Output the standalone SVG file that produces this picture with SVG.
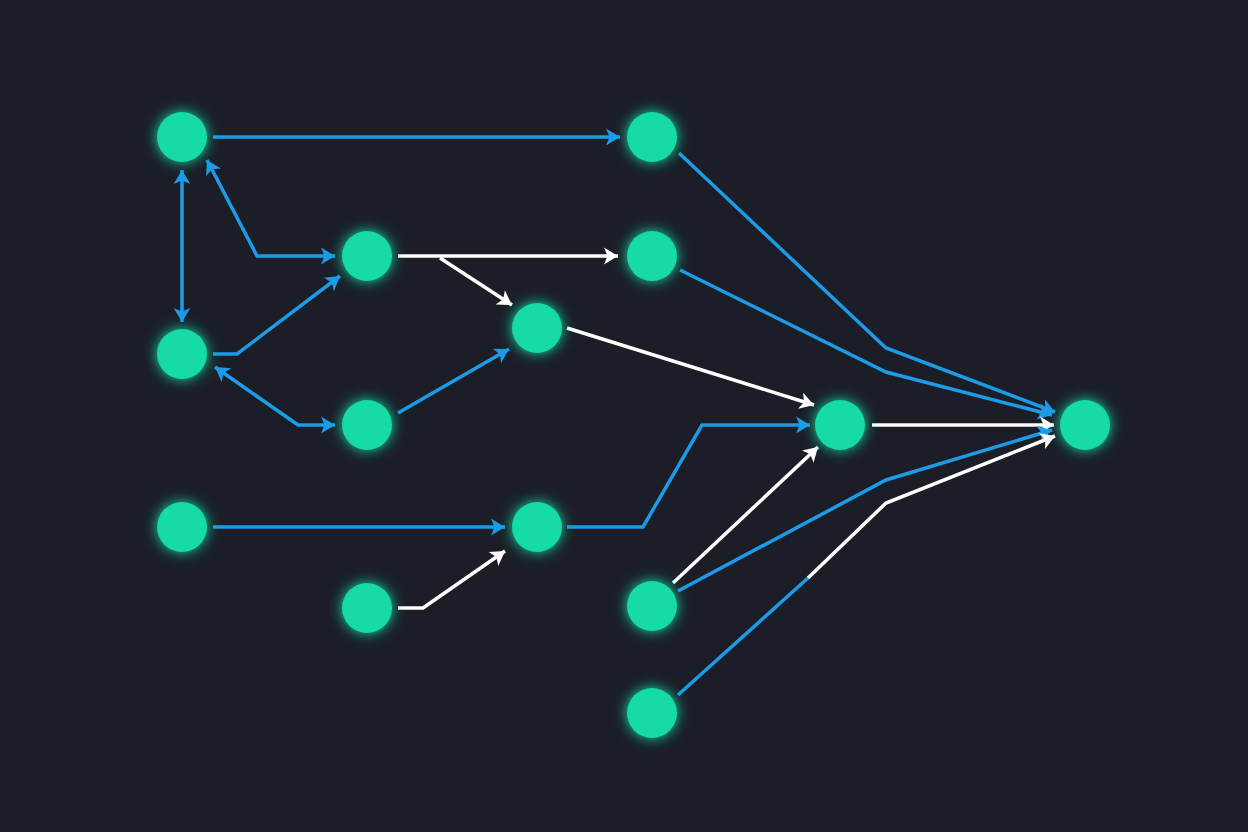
<svg xmlns="http://www.w3.org/2000/svg" width="1248" height="832" viewBox="0 0 1248 832">
<style>
.n{fill:#12dba6;filter:url(#glow)}
.b{fill:none;stroke:#1b9be8;stroke-width:3.5;stroke-linejoin:miter}
.w{fill:none;stroke:#ffffff;stroke-width:3.5}
.b.e{marker-end:url(#ab)}
.w.e{marker-end:url(#aw)}
.s{marker-start:url(#abs)}
</style>
<defs>
<filter id="glow" x="-80%" y="-80%" width="260%" height="260%">
<feGaussianBlur in="SourceGraphic" stdDeviation="7" result="bl"/>
<feMerge><feMergeNode in="bl"/><feMergeNode in="SourceGraphic"/></feMerge>
</filter>
<marker id="ab" viewBox="0 0 10 10" refX="9" refY="5" markerWidth="7" markerHeight="7" markerUnits="userSpaceOnUse" orient="auto" style="overflow:visible"><path d="M-14,-7 L6,5 L-14,17 L-9,5 Z" transform="translate(3,0)" fill="#1b9be8"/></marker>
<marker id="abs" viewBox="0 0 10 10" refX="9" refY="5" markerWidth="7" markerHeight="7" markerUnits="userSpaceOnUse" orient="auto-start-reverse" style="overflow:visible"><path d="M-14,-7 L6,5 L-14,17 L-9,5 Z" transform="translate(3,0)" fill="#1b9be8"/></marker>
<marker id="aw" viewBox="0 0 10 10" refX="9" refY="5" markerWidth="7" markerHeight="7" markerUnits="userSpaceOnUse" orient="auto" style="overflow:visible"><path d="M-14,-7 L6,5 L-14,17 L-9,5 Z" transform="translate(3,0)" fill="#ffffff"/></marker>
</defs>
<rect width="1248" height="832" fill="#1b1e27"/>
<g id="connectors">
<path class="b e" d="M213,137 L620,137"/>
<path class="b e" d="M679,153 L886,348 L1055,412"/>
<path class="b e s" d="M182,170 L182,322"/>
<path class="b e s" d="M207,160 L257,256 L335,256"/>
<path class="b e" d="M213,354 L237,354 L340,276"/>
<path class="b e s" d="M215,367 L298,425 L335,425"/>
<path class="w e" d="M398,256 L618,256"/>
<path class="w e" d="M440,258 L512,305"/>
<path class="b e" d="M398,413 L509,349"/>
<path class="w e" d="M567,328 L814,405"/>
<path class="b e" d="M680,270 L886,372 L1052,415"/>
<path class="w e" d="M872,425 L1054,425"/>
<path class="b e" d="M213,527 L505,527"/>
<path class="w e" d="M398,608 L423,608 L505,551"/>
<path class="b e" d="M567,527 L643,527 L702,425 L810,425"/>
<path class="w e" d="M673,583 L818,447"/>
<path class="b e" d="M678,591 L886,480 L1052,430"/>
<path class="b" d="M678,695 L808,578"/>
<path class="w e" d="M808,578 L886,503 L1055,436"/>
</g>
<g id="nA"><circle class="n" cx="182" cy="137" r="25"/></g>
<g id="nB"><circle class="n" cx="652" cy="137" r="25"/></g>
<g id="nC"><circle class="n" cx="367" cy="256" r="25"/></g>
<g id="nD"><circle class="n" cx="652" cy="256" r="25"/></g>
<g id="nE"><circle class="n" cx="537" cy="328" r="25"/></g>
<g id="nF"><circle class="n" cx="182" cy="354" r="25"/></g>
<g id="nG"><circle class="n" cx="367" cy="425" r="25"/></g>
<g id="nH"><circle class="n" cx="840" cy="425" r="25"/></g>
<g id="nI"><circle class="n" cx="1085" cy="425" r="25"/></g>
<g id="nJ"><circle class="n" cx="182" cy="527" r="25"/></g>
<g id="nK"><circle class="n" cx="537" cy="527" r="25"/></g>
<g id="nL"><circle class="n" cx="367" cy="608" r="25"/></g>
<g id="nM"><circle class="n" cx="652" cy="606" r="25"/></g>
<g id="nN"><circle class="n" cx="652" cy="713" r="25"/></g>
</svg>
